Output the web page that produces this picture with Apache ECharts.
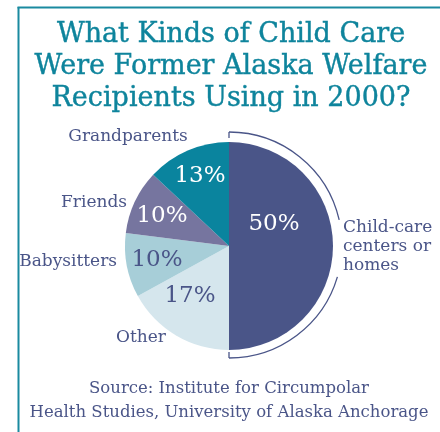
<!DOCTYPE html>
<html><head><meta charset="utf-8">
<script src="https://cdn.jsdelivr.net/npm/echarts@6/dist/echarts.min.js"></script>
<style>html,body{margin:0;padding:0;background:#fff}#c{width:440px;height:432px}</style>
</head><body><div id="c"></div>
<script>
// ---- data ----
const categories = ['Child-care\ncenters or\nhomes', 'Other', 'Babysitters', 'Friends', 'Grandparents'];
const shares = [50, 17, 10, 10, 13];
const titleText = 'What Kinds of Child Care\nWere Former Alaska Welfare\nRecipients Using in 2000?';
const sourceText = 'Source: Institute for Circumpolar\nHealth Studies, University of Alaska Anchorage';

// ---- styles / layout ----
const sliceColors = ['#4a5588', '#d5e6ed', '#a7ced8', '#76759f', '#0a849e'];
const pctColors = ['#ffffff', '#4a5588', '#4a5588', '#ffffff', '#ffffff'];
const pctPos = [[274, 224], [190, 296], [157, 260], [162, 216], [200, 176]];
const namePos = [[343, 247, 'left'], [141, 338, 'center'], [117, 262, 'right'], [127, 203, 'right'], [128, 137, 'center']];
const CX = 229, CY = 246, R = 104;
const BCX = 229, BCY = 245, BR = 113;
const SERIF = 'DejaVu Serif';
const ink = '#4a5588';
const teal = '#1a8aa0';

const pieData = categories.map((c, i) => ({
  name: c, value: shares[i],
  itemStyle: { color: sliceColors[i] },
  label: { color: pctColors[i] }
}));
const nameData = categories.map((c, i) => ({ name: c, value: shares[i] }));

const deg = Math.PI / 180;
const chart = echarts.init(document.getElementById('c'), null, { renderer: 'canvas' });
chart.setOption({
  animation: false,
  backgroundColor: '#ffffff',
  title: [{
    text: titleText, left: 226, top: 14, textAlign: 'center',
    textStyle: { fontFamily: SERIF, fontSize: 27, fontWeight: 'normal', color: '#0e849c', lineHeight: 32, textBorderColor: '#0e849c', textBorderWidth: 0.4 }
  }, {
    text: sourceText, left: 224, top: 372, textAlign: 'center',
    textStyle: { fontFamily: SERIF, fontSize: 16.5, fontWeight: 'normal', color: ink, lineHeight: 24 }
  }],
  graphic: [
    { type: 'line', shape: { x1: 18.5, y1: 7, x2: 18.5, y2: 432 }, style: { stroke: teal, lineWidth: 2 } },
    { type: 'line', shape: { x1: 17.5, y1: 7.5, x2: 440, y2: 7.5 }, style: { stroke: teal, lineWidth: 2 } },
    { type: 'arc', shape: { cx: BCX, cy: BCY, r: BR, startAngle: -90 * deg, endAngle: -12.8 * deg, clockwise: true }, style: { stroke: ink, lineWidth: 1.3, fill: null } },
    { type: 'arc', shape: { cx: BCX, cy: BCY, r: BR, startAngle: 16.4 * deg, endAngle: 90 * deg, clockwise: true }, style: { stroke: ink, lineWidth: 1.3, fill: null } },
    { type: 'line', shape: { x1: BCX, y1: BCY - BR, x2: BCX, y2: BCY - BR + 6 }, style: { stroke: ink, lineWidth: 1.3 } },
    { type: 'line', shape: { x1: BCX, y1: BCY + BR, x2: BCX, y2: BCY + BR - 6 }, style: { stroke: ink, lineWidth: 1.3 } }
  ],
  series: [{
    type: 'pie', center: [CX, CY], radius: [0, R], startAngle: 90, clockwise: true,
    silent: true, emphasis: { disabled: true },
    itemStyle: { borderWidth: 0 },
    label: { show: true, position: 'inside', formatter: '{c}%', fontFamily: SERIF, fontSize: 23, overflow: 'none' },
    labelLine: { show: false },
    labelLayout: p => ({ x: pctPos[p.dataIndex][0], y: pctPos[p.dataIndex][1], align: 'center', verticalAlign: 'middle' }),
    data: pieData
  }, {
    type: 'pie', center: [CX, CY], radius: [0, R], startAngle: 90, clockwise: true,
    silent: true, emphasis: { disabled: true },
    itemStyle: { color: 'rgba(0,0,0,0)', borderWidth: 0 },
    label: { show: true, position: 'inside', formatter: '{b}', fontFamily: SERIF, fontSize: 17, color: ink, lineHeight: 19, overflow: 'none' },
    labelLine: { show: false },
    labelLayout: p => ({ x: namePos[p.dataIndex][0], y: namePos[p.dataIndex][1], align: namePos[p.dataIndex][2], verticalAlign: 'middle' }),
    data: nameData
  }]
});
</script>
</body></html>
